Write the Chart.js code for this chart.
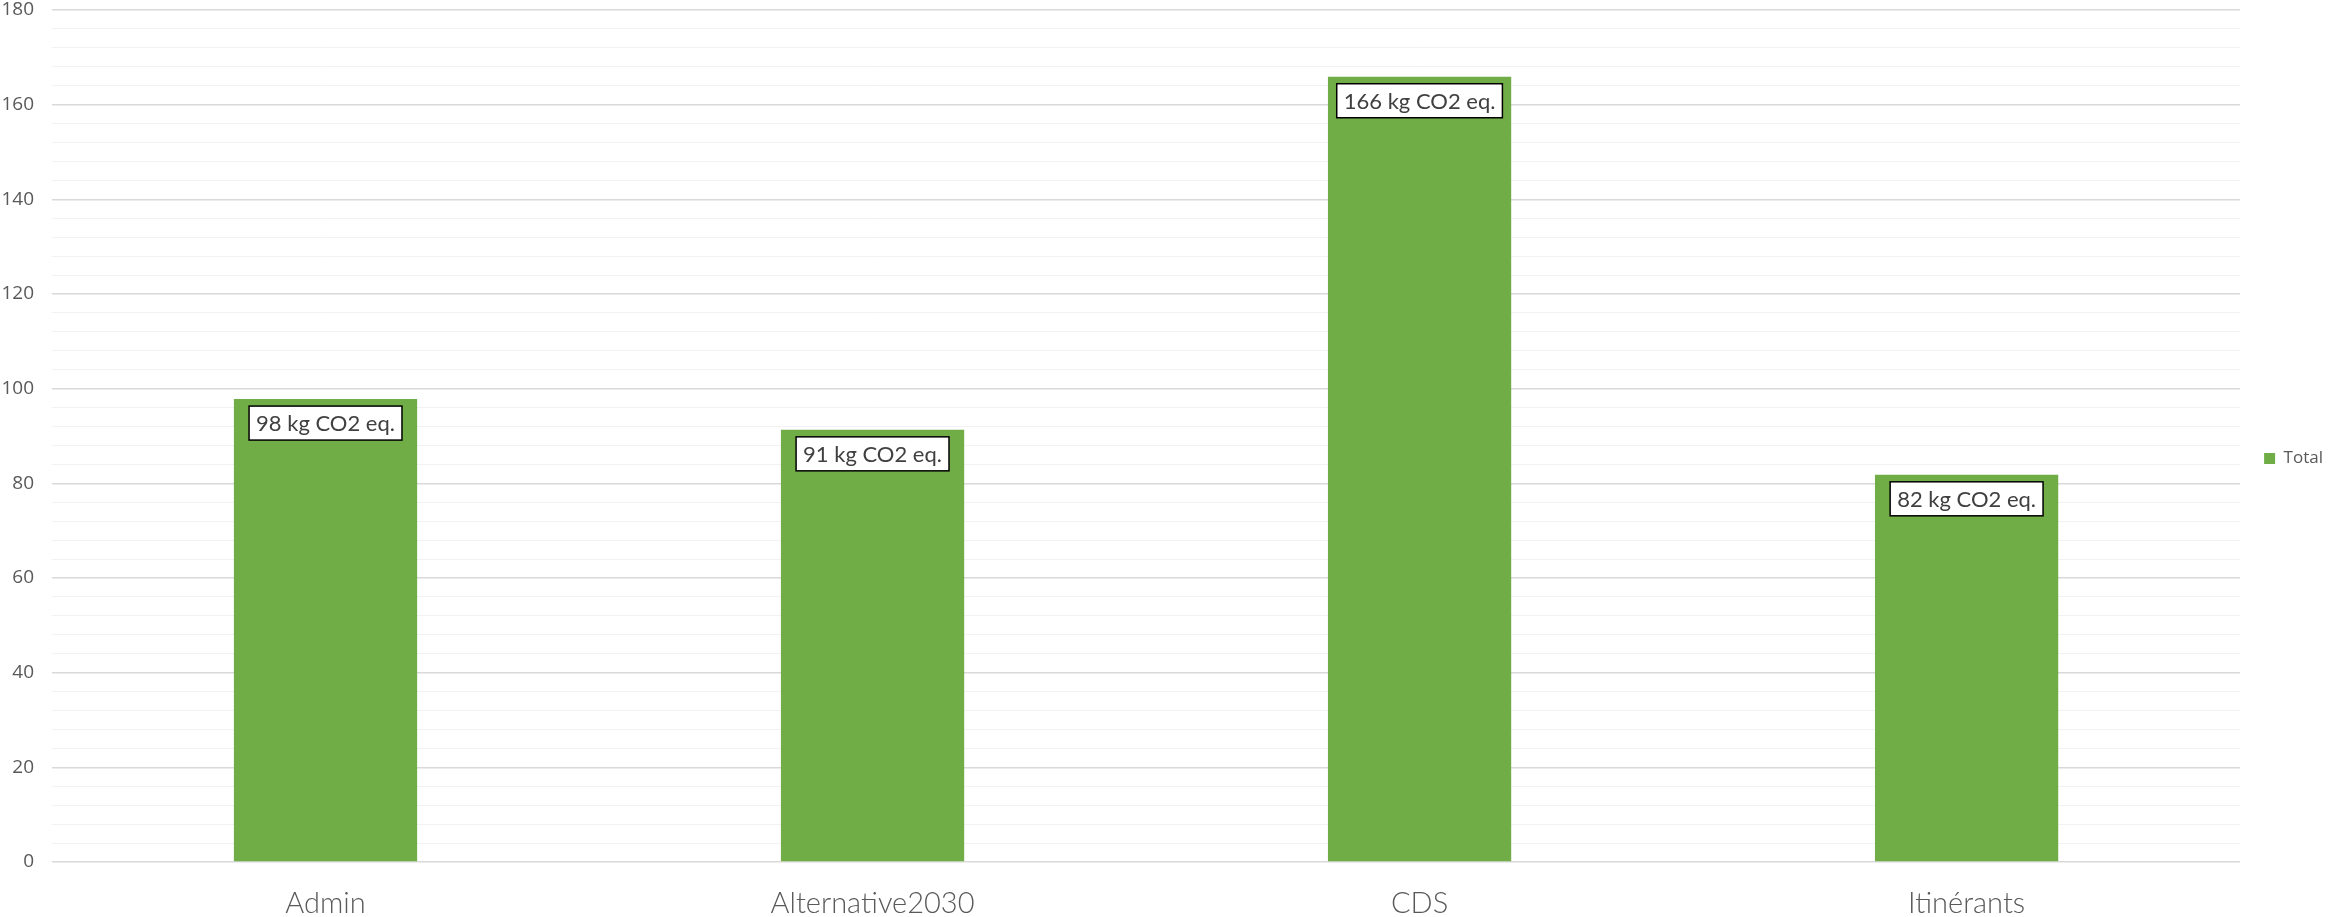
<!DOCTYPE html>
<html>
<head>
<meta charset="utf-8">
<script src="https://cdn.jsdelivr.net/npm/chart.js@4"></script>
<style>
  html, body { margin: 0; padding: 0; background: #fff; }
  #wrap { width: 2333px; height: 917px; }
</style>
</head>
<body>
<div id="wrap"><canvas id="myChart" width="2333" height="917"></canvas></div>
<script>
'use strict';

let categories = ['Admin', 'Alternative2030', 'CDS', 'Itinérants'];
let totals = [97.8, 91.3, 165.9, 81.8];
let seriesName = 'Total';
let labelUnit = ' kg CO2 eq.';
let yMax = 180;
let yMajorStep = 20;
let yMinorStep = 4;

// white boxed labels at the top of each bar
let boxLabels = {
  id: 'boxLabels',
  afterDatasetsDraw(chart) {
    let ctx = chart.ctx;
    let meta = chart.getDatasetMeta(0);
    ctx.save();
    ctx.font = '22px Lato, "Open Sans", sans-serif';
    ctx.textAlign = 'center';
    ctx.textBaseline = 'middle';
    meta.data.forEach(function (bar, i) {
      let txt = Math.round(totals[i]) + labelUnit;
      let w = ctx.measureText(txt).width + 14;
      let h = 34;
      let top = bar.y + 7;
      ctx.fillStyle = '#ffffff';
      ctx.fillRect(bar.x - w / 2, top, w, h);
      ctx.strokeStyle = '#000000';
      ctx.lineWidth = 1.5;
      ctx.strokeRect(bar.x - w / 2, top, w, h);
      ctx.fillStyle = '#404040';
      ctx.fillText(txt, bar.x, top + h / 2 + 1);
    });
    ctx.restore();
  }
};

let ctx = document.getElementById('myChart').getContext('2d');
let myChart = new Chart(ctx, {
  type: 'bar',
  data: {
    labels: categories,
    datasets: [{
      label: seriesName,
      data: totals,
      backgroundColor: '#70ad47',
      borderWidth: 0,
      categoryPercentage: 1,
      barPercentage: 0.335
    }]
  },
  options: {
    responsive: false,
    animation: false,
    layout: { padding: 0 },
    plugins: {
      legend: {
        position: 'right',
        labels: {
          boxWidth: 11,
          boxHeight: 11,
          padding: 24,
          color: '#595959',
          font: { size: 17, family: '"Open Sans", sans-serif' }
        }
      },
      tooltip: { enabled: false }
    },
    scales: {
      x: {
        grid: { display: false },
        border: { display: false },
        afterFit: function (s) { s.height = 55; },
        ticks: {
          color: '#595959',
          padding: 16,
          font: { size: 29, family: 'Lato', weight: '300' }
        }
      },
      y: {
        min: 0,
        max: yMax,
        border: { display: false },
        afterFit: function (s) {
          s.width = 52;
          s.paddingTop = 10;
          s.paddingBottom = 0;
        },
        grid: {
          color: function (c) {
            return c.tick.value % yMajorStep === 0 ? '#d9d9d9' : '#f2f2f2';
          },
          lineWidth: function (c) {
            return c.tick.value % yMajorStep === 0 ? 1.5 : 1;
          },
          drawTicks: false
        },
        ticks: {
          stepSize: yMinorStep,
          autoSkip: false,
          color: '#595959',
          padding: 18,
          font: { size: 19, family: '"Open Sans", sans-serif' },
          callback: function (v) {
            return v % yMajorStep === 0 ? v : '';
          }
        }
      }
    }
  },
  plugins: [boxLabels]
});
</script>
</body>
</html>
